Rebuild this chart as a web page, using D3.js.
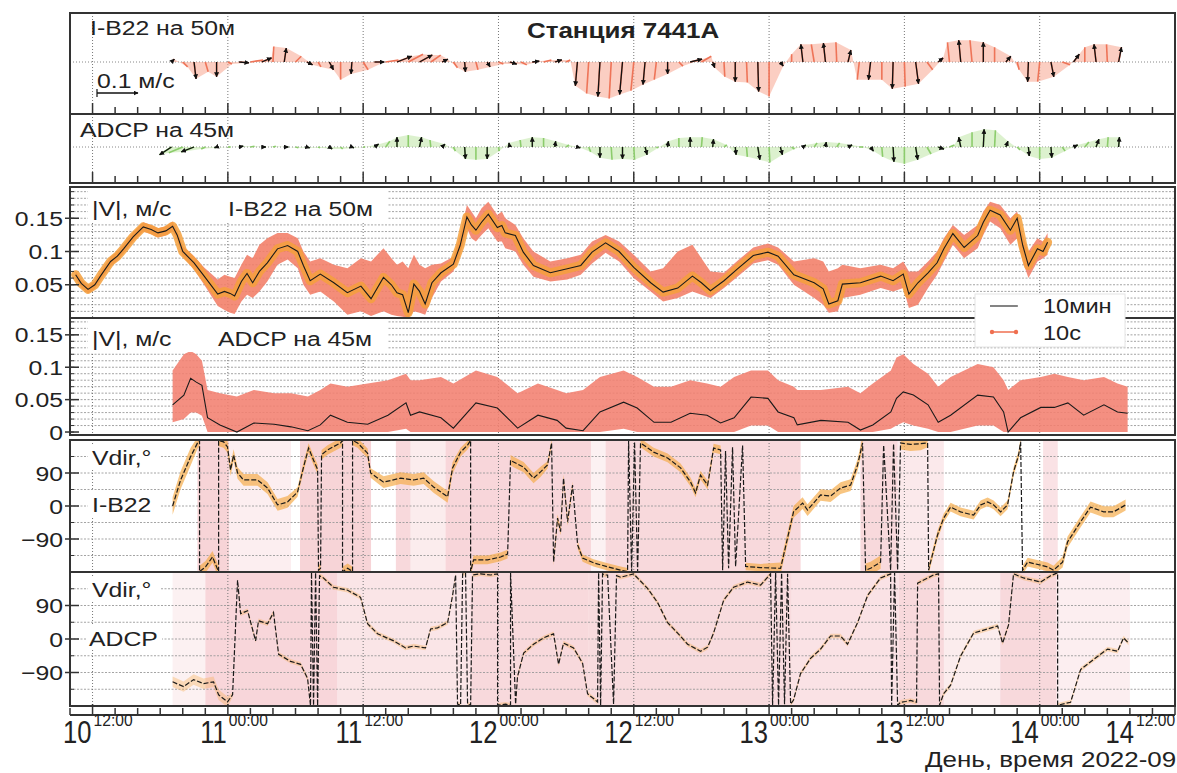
<!DOCTYPE html>
<html><head><meta charset="utf-8">
<script src="https://cdn.jsdelivr.net/npm/d3@7"></script>
<style>body{margin:0;background:#fff}svg{display:block}text{font-family:"Liberation Sans",Arial,Helvetica,sans-serif}</style>
</head><body><svg id="c" width="1177" height="773"></svg>
<script>
// ---------------- DATA (time in hours from 2022-09-10 00:00) ----------------
const majorHours = [12,24,36,48,60,72,84,96,108];
const dayLabels  = ["10","11","11","12","12","13","13","14","14"];
const timeLabels = ["12:00","00:00","12:00","00:00","12:00","00:00","12:00","00:00","12:00"];
const spdTickVals1 = [0.05,0.1,0.15];
const spdTickLbl1  = ["0.05","0.1","0.15"];
const spdTickVals2 = [0,0.05,0.1,0.15];
const spdTickLbl2  = ["0","0.05","0.1","0.15"];
const dirTickVals  = [-90,0,90];
const dirTickLbl   = ["\u221290","0","90"];

// stick plots (hourly), u = east, v = north, m/s
const stickT = [19,20,21,22,23,24,25,26,27,28,29,30,31,32,33,34,35,36,37,38,39,40,41,42,43,44,45,46,47,48,49,50,51,52,53,54,55,56,57,58,59,60,61,62,63,64,65,66,67,68,69,70,71,72,73,74,75,76,77,78,79,80,81,82,83,84,85,86,87,88,89,90,91,92,93,94,95,96,97,98,99,100,101,102,103];
const ib22U = [0.007,0.012,0.005,0.007,0,0.010,0.024,0.031,0.024,0.002, 0.005,0.014,0.014,0.007,0.010,0,-0.002,0.012,0.024,0.031, 0.036,0.036,0.031,0.024,0.014,0.010,0.002,0.005,0.007,0.012, 0.017,0.014,0.017,0.019,0.017,0.010,-0.005,-0.005,-0.005,-0.005, -0.007,-0.007,-0.005,-0.005,0,0.010,0.029,0.024,0.005,0.002, 0,0.002,0.002,0,0.007,0,-0.005,-0.007,-0.005,-0.002, 0.007,-0.005,-0.005,0,-0.002,0.002,0.007,0.014,0.012,-0.005, -0.005,-0.005,0,0,0.012,0.005,-0.002,-0.005,0.007,0.019, 0.014,0,-0.005,-0.002,0.007];
const ib22V = [0.007,-0.012,-0.041,-0.024,-0.036,-0.005,-0.002,0.005,0.010,0.038, 0.034,0.014,-0.007,-0.012,-0.019,-0.043,-0.029,-0.019,0,0.005, 0.014,0.019,0.017,0.017,0.007,-0.014,-0.024,-0.019,-0.012,-0.005, -0.005,-0.007,0.002,0.005,0.005,0.005,-0.058,-0.077,-0.084,-0.089, -0.079,-0.070,-0.055,-0.043,-0.029,-0.010,0.007,0.014,-0.014,-0.036, -0.048,-0.050,-0.072,-0.084,-0.010,0.019,0.043,0.043,0.046,0.048, 0.029,-0.043,-0.043,-0.043,-0.065,-0.060,-0.053,-0.019,0.010,0.048, 0.053,0.053,0.048,0.036,0.014,-0.019,-0.048,-0.048,-0.036,-0.007, 0.019,0.036,0.043,0.043,0.036];
const adcpU = [-0.029,-0.034,-0.031,-0.010,-0.005,0.007,0.010,0.010,0.010,0.007, 0.010,0.007,0.007,0.005,0.007,0.005,0.005,0.005,0.010,0.010, 0,0,0.005,-0.002,0.007,0.005,0.002,0,0,0.002, -0.002,-0.002,0,0,0.002,0.007,0.007,0.005,0,0.002, 0,0.002,0.005,0.005,0.002,0,0,0.002,0.002,0.007, 0.002,0.002,0.005,0.002,0.005,0.007,0.007,0.007,0.002,0.007, 0.010,0.010,0.007,0.002,0.002,0,0.005,0.010,0.014,0.012, -0.005,0,0.002,0.002,0.005,0.007,0.002,0,0.002,0.007, 0.010,0.010,0.007,0.002,0.002];
const adcpV = [-0.019,-0.014,-0.012,-0.005,-0.002,0,0.002,0.002,0,0.002, 0,-0.002,-0.002,-0.002,-0.005,-0.005,-0.002,0,0.007,0.014, 0.024,0.029,0.024,0.017,0.007,-0.010,-0.029,-0.031,-0.029,-0.010, 0.010,0.017,0.024,0.022,0.014,0.005,-0.002,-0.012,-0.026,-0.031, -0.029,-0.031,-0.019,-0.002,0.014,0.022,0.024,0.024,0.019,0.005, -0.019,-0.024,-0.031,-0.038,-0.019,-0.005,0.005,0.010,0.012,0.010, 0.005,0,-0.010,-0.024,-0.036,-0.041,-0.031,-0.017,-0.005,0.005, 0.024,0.036,0.043,0.041,0.014,-0.007,-0.022,-0.029,-0.026,-0.010, 0.005,0.012,0.019,0.024,0.024];

// |V| I-B22 : 10-min mean and 10-s envelope
const ib22SpdT  = [10.5,11.0,11.6,12.2,12.7,13.6,14.2,14.75,15.6,16.5,17.2,17.8,18.5,19.1,19.5,20.0,21.0,21.9,23.1,23.7,24.2,24.6,25.2,25.7,26.2,26.8,27.5,28.4,29.3,30.2,30.7,31.3,32.2,33.4,34.6,35.8,36.7,37.8,38.5,39.0,39.5,40.0,40.5,41.0,41.5,42.1,42.9,44.0,44.6,45.2,45.6,46.0,46.5,47.1,47.9,48.3,48.6,49.5,50.2,51.1,52.6,54.1,55.3,56.3,57.5,58.7,60.0,61.5,62.6,63.9,65.2,66.0,66.8,68.0,69.2,70.6,71.9,72.8,74.2,76.0,76.8,77.3,78.1,78.5,80.1,81.9,83.0,83.9,84.4,85.2,86.1,86.9,87.5,88.3,89.3,90.5,91.0,91.6,92.5,93.4,94.0,94.5,95.0,95.8,96.3,96.7];
const ib22Spd   = [.065,.052,.043,.050,.063,.085,.093,.104,.122,.137,.133,.128,.131,.138,.125,.100,.083,.063,.036,.040,.037,.033,.055,.067,.053,.070,.083,.104,.109,.100,.079,.056,.066,.053,.038,.048,.029,.061,.050,.038,.035,.008,.051,.040,.021,.053,.068,.081,.109,.152,.140,.132,.144,.156,.136,.139,.128,.124,.099,.079,.068,.074,.079,.099,.113,.100,.076,.053,.039,.045,.063,.053,.041,.056,.074,.094,.099,.093,.065,.053,.044,.021,.026,.051,.053,.063,.056,.066,.036,.053,.068,.083,.104,.127,.106,.124,.144,.162,.155,.132,.150,.109,.079,.104,.100,.114];
const ib22SpdLo = [.059,.046,.037,.044,.056,.078,.086,.097,.115,.130,.126,.121,.124,.131,.118,.092,.073,.050,.018,.012,.008,.006,.025,.035,.030,.040,.055,.080,.088,.075,.050,.035,.040,.025,.005,.010,.003,.010,.005,.003,.002,.000,.010,.008,.005,.030,.055,.070,.095,.135,.120,.115,.125,.135,.115,.115,.105,.100,.080,.062,.055,.058,.065,.082,.098,.085,.060,.040,.025,.030,.040,.035,.030,.045,.062,.082,.087,.080,.050,.030,.020,.008,.010,.030,.035,.045,.040,.045,.015,.020,.045,.065,.085,.110,.090,.105,.125,.145,.135,.110,.120,.085,.060,.085,.090,.095];
const ib22SpdHi = [.071,.058,.049,.056,.070,.092,.100,.111,.129,.144,.140,.135,.138,.145,.132,.108,.093,.076,.058,.065,.062,.060,.080,.095,.090,.110,.120,.128,.128,.120,.100,.085,.090,.080,.075,.090,.085,.105,.090,.080,.085,.075,.095,.080,.075,.080,.082,.092,.125,.170,.160,.150,.165,.175,.155,.160,.150,.140,.120,.100,.085,.090,.095,.115,.125,.115,.095,.070,.075,.100,.110,.090,.070,.068,.086,.106,.112,.106,.085,.090,.085,.070,.075,.080,.075,.080,.075,.085,.070,.070,.085,.100,.120,.140,.125,.140,.160,.175,.170,.150,.160,.125,.100,.120,.115,.128];

// |V| ADCP
const adcpSpdT  = [19.1,20.1,20.7,21.2,21.7,22.2,23.3,24.8,26.3,28.1,29.6,31.1,32.2,33.1,34.6,36.4,38.2,39.8,40.2,41.0,42.9,44.0,46.0,47.9,49.7,51.5,53.2,54.0,55.5,57.0,59.1,60.3,61.8,63.3,65.0,66.5,67.7,68.9,70.4,71.9,72.8,74.2,74.5,76.6,79.0,80.1,81.2,82.8,83.3,83.9,84.8,86.1,87.0,88.1,90.5,91.9,92.8,93.2,94.3,96.1,97.3,98.5,99.9,101.7,102.9,103.8];
const adcpSpd   = [.042,.057,.083,.077,.072,.022,.011,.000,.014,.012,.008,.002,.011,.026,.015,.012,.026,.045,.026,.031,.022,.006,.045,.037,.006,.026,.018,.006,.002,.031,.046,.037,.015,.015,.029,.026,.014,.022,.054,.052,.031,.022,.011,.018,.015,.003,.011,.031,.052,.062,.057,.042,.015,.026,.057,.054,.031,.000,.022,.038,.038,.045,.026,.042,.031,.029];
const adcpSpdLo = [.015,.020,.030,.030,.025,.000,.000,.000,.000,.000,.000,.000,.000,.000,.000,.000,.000,.005,.000,.000,.000,.000,.000,.000,.000,.000,.000,.000,.000,.000,.005,.000,.000,.000,.000,.000,.000,.000,.010,.010,.000,.000,.000,.000,.000,.000,.000,.005,.010,.015,.010,.005,.000,.000,.010,.010,.000,.000,.000,.000,.000,.000,.000,.000,.000,.000];
const adcpSpdHi = [.095,.120,.125,.120,.110,.065,.060,.055,.065,.060,.060,.055,.065,.075,.070,.075,.080,.090,.080,.080,.085,.075,.095,.085,.060,.075,.065,.060,.065,.085,.095,.085,.070,.070,.080,.075,.070,.085,.095,.095,.080,.070,.065,.065,.070,.060,.075,.095,.115,.120,.105,.090,.070,.085,.105,.100,.080,.065,.080,.085,.090,.085,.080,.085,.075,.070];

// Vdir I-B22 (10-min), degrees
const ib22DirT = [19.10,19.80,20.69,21.31,21.49,21.49,22.02,22.64,23.0,23.18,23.18,23.62,23.97,24.24,24.51,24.86,25.39,26.63,27.52,28.41,29.29,30.18,30.71,31.16,31.60,31.96,32.04,32.22,32.31,32.84,34.0,34.17,34.17,34.62,35.06,35.06,35.50,36.39,36.66,37.81,39.32,40.47,41.36,42.24,43.49,43.93,44.64,45.26,45.53,45.53,45.79,47.03,48.19,48.81,49.07,49.34,50.23,51.11,51.73,52.35,52.71,52.89,53.24,53.51,53.77,54.13,54.57,55.02,55.46,56.43,57.68,58.83,59.45,59.54,59.81,60.07,60.34,60.60,61.76,63.0,64.15,65.04,65.48,65.92,66.55,67.08,67.70,67.88,68.14,68.41,68.76,69.03,69.65,69.92,71.25,73.02,73.64,74.17,74.97,75.41,76.57,77.45,78.34,79.23,79.85,80.29,80.56,81.0,81.89,82.16,82.78,83.04,83.40,83.66,84.55,85.44,86.06,86.15,86.32,86.94,87.48,88.10,88.98,90.14,90.76,91.38,91.91,92.53,93.15,93.68,94.13,94.31,94.48,94.93,96.70,97.23,98.03,98.47,99.63,100.51,101.67,102.55,103.62];
const ib22Dir  = [0,70,134,172,179,-179,-166,-139,-166,-179,179,175,161,98,139,90,71,71,49,3,11,38,106,158,125,100,-175,-170,140,153,172,179,-179,-170,-179,179,172,144,90,65,76,71,76,52,25,104,147,166,179,-179,-147,-147,-139,-131,125,120,106,76,93,112,172,-153,-33,-70,76,-43,57,-106,-142,-155,-166,-175,-179,179,-179,175,-179,172,147,131,104,65,36,84,57,158,153,-175,150,-170,160,-165,165,-165,-168,-170,-87,-16,8,-11,30,27,49,57,112,172,-175,-170,-153,166,-175,170,-175,172,168,170,172,-175,-153,-79,-33,-3,-16,-25,3,11,3,-16,3,93,139,175,-175,-153,-166,-175,-153,-98,-43,-3,-16,-16,3];
const ib22DirSpreadT = [19,21,24,30,37,44,49,52,55,60,68,73,80,86,93,98];
const ib22DirSpread  = [24,16,16,13,16,12,14,10,10,12,10,16,18,12,12,15];

// Vdir ADCP
const adcpDirT = [19.10,20.07,20.96,21.84,22.73,23.18,23.97,24.42,24.86,25.13,25.75,26.46,26.72,27.52,28.05,28.50,29.56,30.45,31.07,31.33,31.42,31.60,31.78,31.96,32.13,32.40,33.37,34.62,35.77,36.39,37.28,38.70,39.76,40.47,41.53,41.98,42.60,43.49,43.93,44.20,44.37,44.64,44.82,45.08,45.26,45.53,45.70,46.41,47.30,47.92,47.92,48.63,49.07,49.07,49.52,49.69,50.23,51.11,52.0,52.89,53.33,53.77,54.66,55.46,55.90,56.79,56.88,57.06,57.23,57.41,57.68,58.21,58.47,58.83,59.98,61.22,62.11,63.0,63.89,64.77,65.92,66.55,67.08,67.97,68.85,70.09,71.25,72.13,72.31,72.58,72.84,73.11,73.37,73.64,73.91,74.17,74.79,75.68,76.57,77.45,78.34,78.96,79.85,80.74,81.89,82.78,82.87,83.13,83.40,83.66,84.11,84.55,85.08,85.17,86.59,87.03,87.12,87.48,88.10,88.98,90.14,91.38,92.27,92.71,93.24,93.68,94.57,96.08,96.97,97.59,97.59,98.74,99.63,100.78,102.02,102.91,103.44,103.88];
const adcpDir  = [-115,-128,-109,-120,-115,-150,-169,-150,158,68,76,-5,49,41,71,-41,-60,-68,-106,-179,179,-179,179,-179,170,166,139,131,112,41,14,-5,-24,-19,-24,27,30,44,117,172,-175,-178,175,178,-175,-178,172,175,172,175,-178,-175,-178,178,-175,-101,-38,-14,3,14,-68,-11,-24,-65,-147,-169,178,-178,175,172,172,-175,170,166,175,136,98,44,16,-14,-33,-22,16,104,139,153,145,175,-178,178,-178,178,-175,175,-175,-164,-93,-52,-27,8,8,-14,44,117,164,175,-178,178,-178,-170,-168,-165,-170,150,172,175,-178,-147,-124,-46,16,27,35,-11,38,175,164,153,170,178,-178,-170,-82,-55,-27,-33,3,-11];
const adcpDirSpreadT = [19,24,104];
const adcpDirSpread  = [14,6,6];

// 10-s scatter covering full circle (pink), intervals and density
const ib22PinkStart = [21.3,24.1,30.4,38.9,40.2,43.3,56.2,57.5,80.1,83.4,96.3];
const ib22PinkEnd   = [24.1,29.6,36.7,40.2,43.3,56.2,57.5,74.8,83.4,87.5,97.6];
const ib22PinkDens  = [0.9,0.35,0.9,0.8,0.4,0.85,0.3,0.8,0.8,0.45,0.6];
const adcpPinkStart = [19.1,22.0,33.7,45.5,56.0,74.0,83.5,87.5,92.5,97.5];
const adcpPinkEnd   = [22.0,33.7,45.5,56.0,74.0,83.5,87.5,92.5,97.5,104.0];
const adcpPinkDens  = [0.3,0.85,0.55,0.8,0.75,0.6,0.8,0.4,0.8,0.35];

// ---------------- DRAWING ----------------
const svg = d3.select('#c');
const X0 = 70, X1 = 1175, SX = 1.18;
const x = d3.scaleLinear().domain([10,108]).range([X0,X1]);
const P = {s1:{top:13,bottom:114}, s2:{top:114,bottom:183}, v1:{top:187,bottom:318},
           v2:{top:318,bottom:435}, d1:{top:440,bottom:572}, d2:{top:572,bottom:706}};
const yV1 = d3.scaleLinear().domain([0,0.197]).range([P.v1.bottom,P.v1.top]);
const yV2 = d3.scaleLinear().domain([-0.0046,0.176]).range([P.v2.bottom,P.v2.top]);
const yD1 = d3.scaleLinear().domain([-180,180]).range([P.d1.bottom,P.d1.top]);
const yD2 = d3.scaleLinear().domain([-180,180]).range([P.d2.bottom,P.d2.top]);
const sLen = d3.scaleLinear().domain([0,0.1]).range([0,41]);

const defs = svg.append('defs');
defs.append('marker').attr('id','ah').attr('viewBox','0 0 10 10').attr('refX',9).attr('refY',5)
  .attr('markerWidth',5).attr('markerHeight',5).attr('markerUnits','userSpaceOnUse').attr('orient','auto')
  .append('path').attr('d','M0,0L10,5L0,10z').attr('fill','#111');
Object.entries(P).forEach(([k,p])=>{
  defs.append('clipPath').attr('id','cl_'+k).append('rect')
    .attr('x',X0).attr('y',p.top).attr('width',X1-X0).attr('height',p.bottom-p.top);
});

function txt(g,px,py,s,size,anchor,weight,sx){
  return g.append('text').attr('transform',`translate(${px},${py}) scale(${sx||SX},1)`)
    .attr('text-anchor',anchor||'start').attr('font-size',size).attr('font-weight',weight||'normal')
    .attr('fill','#222').text(s);
}
function vGrid(g,p){
  g.selectAll(null).data(majorHours.slice(0,-1)).join('line')
    .attr('x1',d=>x(d)).attr('x2',d=>x(d)).attr('y1',p.top).attr('y2',p.bottom)
    .attr('stroke','#777').attr('stroke-width',1).attr('stroke-dasharray','1,2');
}
function hGrid(g,vals,ys){
  g.selectAll(null).data(vals).join('line')
    .attr('x1',X0).attr('x2',X1).attr('y1',d=>ys(d)).attr('y2',d=>ys(d))
    .attr('stroke','#9a9a9a').attr('stroke-width',0.9).attr('stroke-dasharray','2,1.5');
}
function frame(p){
  svg.append('rect').attr('x',X0).attr('y',p.top).attr('width',X1-X0).attr('height',p.bottom-p.top)
    .attr('fill','none').attr('stroke','#333').attr('stroke-width',2);
}
function bottomTicks(yb){
  const hrs = d3.range(10,108.01,2);
  svg.append('g').selectAll('line').data(hrs).join('line')
    .attr('x1',d=>x(d)).attr('x2',d=>x(d)).attr('y1',yb)
    .attr('y2',d=>yb-(majorHours.includes(d)?11:7)).attr('stroke','#333').attr('stroke-width',1.5);
}
function yAxis(ys,p,vals,lbls,minorVals){
  const g = svg.append('g');
  g.selectAll('.mi').data(minorVals).join('line').attr('x1',X0).attr('x2',X0+4)
    .attr('y1',d=>ys(d)).attr('y2',d=>ys(d)).attr('stroke','#333').attr('stroke-width',1);
  g.selectAll('.ma').data(vals).join('line').attr('x1',X0-5).attr('x2',X0+9)
    .attr('y1',d=>ys(d)).attr('y2',d=>ys(d)).attr('stroke','#333').attr('stroke-width',1.5);
  vals.forEach((v,i)=>txt(g,63,ys(v)+7.5,lbls[i],21,'end'));
}
function whiteBox(x0,y0,w,h){
  svg.append('rect').attr('x',x0).attr('y',y0).attr('width',w).attr('height',h).attr('fill','#fff');
}

// ---- stick panels ----
function stickPanel(key,y0,U,V,fanCol,stickCol){
  const p = P[key];
  const g = svg.append('g').attr('clip-path',`url(#cl_${key})`);
  vGrid(g,p);
  g.append('line').attr('x1',X0).attr('x2',X1).attr('y1',y0).attr('y2',y0)
    .attr('stroke','#888').attr('stroke-dasharray','1,2');
  const pts = stickT.map((t,i)=>({t, bx:x(t), tx:x(t)+sLen(U[i]), ty:y0-sLen(V[i])}));
  const fan = d3.pairs(pts).map(([a,b])=>`M${a.bx},${y0}L${a.tx},${a.ty}L${b.tx},${b.ty}L${b.bx},${y0}Z`);
  g.selectAll('.fan').data(fan).join('path').attr('d',d=>d).attr('fill',fanCol).attr('opacity',0.55);
  g.selectAll('.st').data(pts).join('line').attr('x1',d=>d.bx).attr('y1',y0).attr('x2',d=>d.tx).attr('y2',d=>d.ty)
    .attr('stroke',stickCol).attr('stroke-width',1.6);
  g.selectAll('.ar').data(pts.filter(d=>(d.t-19)%2===0)).join('line')
    .attr('x1',d=>d.bx).attr('y1',y0).attr('x2',d=>d.tx).attr('y2',d=>d.ty)
    .attr('stroke','#111').attr('stroke-width',1.3).attr('marker-end','url(#ah)');
  bottomTicks(p.bottom);
}
stickPanel('s1',62,ib22U,ib22V,'#f7a58f','#ee7458');
stickPanel('s2',147,adcpU,adcpV,'#bfe5a6','#8ccc6c');
frame(P.s1); frame(P.s2);
txt(svg,90,35,'I-B22 на 50м',21);
txt(svg,527,38,'Станция 7441А',22,'start','bold');
txt(svg,97,88,'0.1 м/с',21);
svg.append('line').attr('x1',97).attr('x2',97+sLen(0.1)).attr('y1',93).attr('y2',93)
  .attr('stroke','#111').attr('stroke-width',1.4).attr('marker-end','url(#ah)');
svg.append('line').attr('x1',97).attr('x2',97).attr('y1',89).attr('y2',97).attr('stroke','#111').attr('stroke-width',1.2);
txt(svg,80,137,'ADCP на 45м',21);

// ---- speed panels ----
function speedPanel(key,ys,T,S,Lo,Hi,bandCol,core){
  const p = P[key];
  const g = svg.append('g').attr('clip-path',`url(#cl_${key})`);
  hGrid(g,d3.range(0.01,0.2,0.01).filter(v=>ys(v)>p.top && ys(v)<p.bottom),ys);
  vGrid(g,p);
  const idx = T.map((t,i)=>i);
  g.append('path').datum(idx).attr('fill',bandCol).attr('opacity',0.88)
    .attr('d',d3.area().x(i=>x(T[i])).y0(i=>ys(Lo[i])).y1(i=>ys(Hi[i])));
  if(core) g.append('path').datum(idx).attr('fill','none').attr('stroke',core).attr('stroke-width',9).attr('opacity',0.85)
    .attr('stroke-linejoin','round').attr('stroke-linecap','round').attr('d',d3.line().x(i=>x(T[i])).y(i=>ys(S[i])));
  g.append('path').datum(idx).attr('fill','none').attr('stroke','#1a1a1a').attr('stroke-width',1.1)
    .attr('d',d3.line().x(i=>x(T[i])).y(i=>ys(S[i])));
}
speedPanel('v1',yV1,ib22SpdT,ib22Spd,ib22SpdLo,ib22SpdHi,'#f27d66','#f5a03c');
speedPanel('v2',yV2,adcpSpdT,adcpSpd,adcpSpdLo,adcpSpdHi,'#f28070',null);
frame(P.v1); frame(P.v2);
yAxis(yV1,P.v1,spdTickVals1,spdTickLbl1,d3.range(0.01,0.195,0.01));
yAxis(yV2,P.v2,spdTickVals2,spdTickLbl2,d3.range(0,0.175,0.01));
whiteBox(88,190,300,31); txt(svg,92,216,'|V|, м/с',21); txt(svg,228,216,'I-B22 на 50м',21);
whiteBox(88,321,300,31); txt(svg,92,346,'|V|, м/с',21); txt(svg,218,346,'ADCP на 45м',21);

// legend
const lg = svg.append('g');
lg.append('rect').attr('x',975).attr('y',294).attr('width',150).attr('height',53).attr('fill','#fff').attr('stroke','#e4e4e4');
lg.append('line').attr('x1',990).attr('x2',1018).attr('y1',306).attr('y2',306).attr('stroke','#333').attr('stroke-width',1.2);
txt(lg,1043,313,'10мин',20);
lg.append('line').attr('x1',992).attr('x2',1016).attr('y1',332).attr('y2',332).attr('stroke','#ef6f50').attr('stroke-width',1.5);
lg.selectAll('circle').data([992,1016]).join('circle').attr('cx',d=>d).attr('cy',332).attr('r',2.2).attr('fill','#ef6f50');
txt(lg,1043,340,'10с',20);

// ---- direction panels ----
function dirPanel(key,ys,T,D,spT,spV,pS,pE,pD,bandOp){
  const p = P[key];
  const g = svg.append('g').attr('clip-path',`url(#cl_${key})`);
  g.selectAll('.pk').data(pS.map((s,i)=>i)).join('rect')
    .attr('x',i=>x(pS[i])).attr('width',i=>x(pE[i])-x(pS[i])).attr('y',p.top).attr('height',p.bottom-p.top)
    .attr('fill','#f4c3c8').attr('opacity',i=>pD[i]*0.8);
  hGrid(g,[-135,-90,-45,0,45,90,135],ys);
  vGrid(g,p);
  const pts = T.map((t,i)=>({t,d:D[i],s:spV[Math.max(0,d3.bisectRight(spT,t)-1)]}));
  const segs = [[pts[0]]];
  for(let i=1;i<pts.length;i++){
    if(Math.abs(pts[i].d-pts[i-1].d)>150) segs.push([pts[i]]); else segs[segs.length-1].push(pts[i]);
  }
  const ar = d3.area().x(d=>x(d.t)).y0(d=>ys(d.d-d.s)).y1(d=>ys(d.d+d.s));
  segs.filter(s=>s.length>1).forEach(s=>g.append('path').datum(s).attr('d',ar)
    .attr('fill','#f5ad4c').attr('opacity',bandOp));
  g.append('path').datum(pts).attr('fill','none').attr('stroke','#1a1a1a').attr('stroke-width',1.2)
    .attr('stroke-dasharray','5,2').attr('d',d3.line().x(d=>x(d.t)).y(d=>ys(d.d)));
}
dirPanel('d1',yD1,ib22DirT,ib22Dir,ib22DirSpreadT,ib22DirSpread,ib22PinkStart,ib22PinkEnd,ib22PinkDens,0.7);
dirPanel('d2',yD2,adcpDirT,adcpDir,adcpDirSpreadT,adcpDirSpread,adcpPinkStart,adcpPinkEnd,adcpPinkDens,0.35);
frame(P.d1); frame(P.d2);
const dirMinor = [-135,-45,45,135];
yAxis(yD1,P.d1,dirTickVals,dirTickLbl,dirMinor);
yAxis(yD2,P.d2,dirTickVals,dirTickLbl,dirMinor);
whiteBox(88,444,72,26); txt(svg,92,465,'Vdir,°',21);
whiteBox(88,491,72,26); txt(svg,92,512,'I-B22',21);
whiteBox(88,576,72,26); txt(svg,92,597,'Vdir,°',21);
whiteBox(86,624,76,26); txt(svg,89,646,'ADCP',21);

// ---- x axis ----
const AX = 715;
svg.append('line').attr('x1',X0).attr('x2',X1).attr('y1',AX).attr('y2',AX).attr('stroke','#333').attr('stroke-width',2);
bottomTicks(AX);
majorHours.forEach((h,i)=>{
  const last = i === majorHours.length-1;
  const xt = last ? x(h)-40 : x(h);
  txt(svg,xt-1,743,dayLabels[i],32,'end','normal',0.8);
  txt(svg,xt+1,726,timeLabels[i],17,'start','normal',0.92);
});
txt(svg,925,767,'День, время 2022-09',22);
</script></body></html>
